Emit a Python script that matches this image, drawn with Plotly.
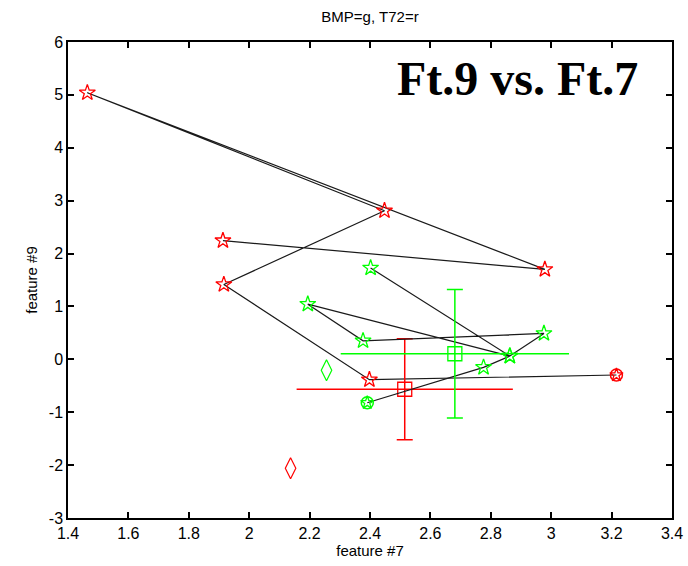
import plotly.graph_objects as go

# Feature #7 / feature #9 trajectories, listed in path order (first point = start marker)
t72_f7 = [3.216, 2.398, 1.916, 2.448, 1.464, 2.979, 1.913]
t72_f9 = [-0.296, -0.385, 1.415, 2.81, 5.04, 1.70, 2.245]
bmp_f7 = [2.391, 2.776, 2.863, 2.976, 2.377, 2.194, 2.863, 2.402]
bmp_f9 = [-0.82, -0.151, 0.062, 0.49, 0.351, 1.043, 0.062, 1.728]

# Extra reference samples
t72_extra_f7 = [2.137]
t72_extra_f9 = [-2.06]
bmp_extra_f7 = [2.256]
bmp_extra_f9 = [-0.208]

# Class means with spreads
t72_mean = (2.515, -0.566)
t72_spread = (0.358, 0.956)
bmp_mean = (2.681, 0.106)
bmp_spread = (0.378, 1.214)

# Tick positions and labels
x_ticks = [1.4, 1.6, 1.8, 2.0, 2.2, 2.4, 2.6, 2.8, 3.0, 3.2, 3.4]
x_labels = ["1.4", "1.6", "1.8", "2", "2.2", "2.4", "2.6", "2.8", "3", "3.2", "3.4"]
y_ticks = [-3, -2, -1, 0, 1, 2, 3, 4, 5, 6]
y_labels = ["-3", "-2", "-1", "0", "1", "2", "3", "4", "5", "6"]

RED = "#ff0000"
GREEN = "#00ff00"

fig = go.Figure()


def add_class(f7, f9, ex7, ex9, mean, spread, color):
    # connecting path
    fig.add_trace(go.Scatter(x=f7, y=f9, mode="lines",
                             line=dict(color="#1a1a1a", width=1.2),
                             hoverinfo="skip"))
    # star markers
    fig.add_trace(go.Scatter(x=f7[1:], y=f9[1:], mode="markers",
                             marker=dict(symbol="star-open", size=12,
                                         color=color, line=dict(width=1.3, color=color))))
    # start point: circle with star
    fig.add_trace(go.Scatter(x=f7[:1], y=f9[:1], mode="markers",
                             marker=dict(symbol="circle-open", size=12,
                                         color=color, line=dict(width=1.5, color=color))))
    fig.add_trace(go.Scatter(x=f7[:1], y=f9[:1], mode="markers",
                             marker=dict(symbol="star-open", size=10,
                                         color=color, line=dict(width=1.3, color=color))))
    # extra sample
    fig.add_trace(go.Scatter(x=ex7, y=ex9, mode="markers",
                             marker=dict(symbol="diamond-tall-open", size=15,
                                         color=color, line=dict(width=1.2, color=color))))
    # mean with spread bars
    fig.add_trace(go.Scatter(x=[mean[0]], y=[mean[1]], mode="markers",
                             marker=dict(symbol="square-open", size=14,
                                         color=color, line=dict(width=1.3, color=color)),
                             error_y=dict(type="constant", value=spread[1], color=color,
                                          thickness=1.5, width=8),
                             error_x=dict(type="constant", value=spread[0], color=color,
                                          thickness=1.5, width=0)))


add_class(t72_f7, t72_f9, t72_extra_f7, t72_extra_f9, t72_mean, t72_spread, RED)
add_class(bmp_f7, bmp_f9, bmp_extra_f7, bmp_extra_f9, bmp_mean, bmp_spread, GREEN)

axis_common = dict(showgrid=False, zeroline=False, showline=True, linecolor="black",
                   linewidth=1.5, mirror="ticks", ticks="inside", ticklen=6,
                   tickcolor="black", tickwidth=1.5, automargin=False,
                   tickfont=dict(family="Liberation Sans", size=16, color="black"))

fig.update_layout(
    width=688, height=566,
    margin=dict(l=68, r=16, t=42, b=48, autoexpand=False),
    paper_bgcolor="white", plot_bgcolor="white",
    showlegend=False,
    title=dict(text="BMP=g, T72=r", x=0.5, xref="paper", y=1, yref="container",
               yanchor="top", pad=dict(t=11),
               font=dict(family="Liberation Sans", size=15, color="black")),
    xaxis=dict(range=[1.4, 3.4], tickvals=x_ticks, ticktext=x_labels,
               title=dict(text="feature #7", standoff=4,
                          font=dict(family="Liberation Sans", size=15, color="black")),
               **axis_common),
    yaxis=dict(range=[-3, 6], tickvals=y_ticks, ticktext=y_labels,
               title=dict(text="feature #9", standoff=8,
                          font=dict(family="Liberation Sans", size=15, color="black")),
               **axis_common),
    annotations=[dict(text="<b>Ft.9 vs. Ft.7</b>", x=0.745, y=0.924,
                      xref="paper", yref="paper", xanchor="center", yanchor="middle",
                      showarrow=False,
                      font=dict(family="Liberation Serif", size=48, color="black"))],
)

fig.write_html("out.html")
